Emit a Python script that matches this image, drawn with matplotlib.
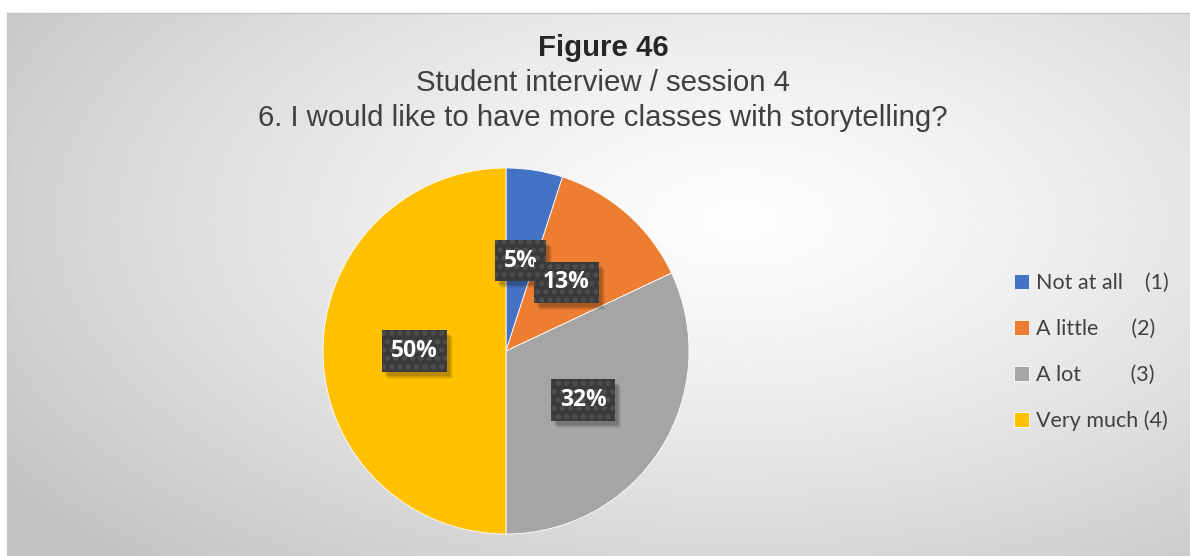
import numpy as np
import matplotlib
matplotlib.use("Agg")
import matplotlib.pyplot as plt
from matplotlib.patches import Rectangle
from matplotlib.transforms import IdentityTransform

# Survey responses
categories = ["Not at all    (1)", "A little      (2)", "A lot         (3)", "Very much (4)"]
shares = [5, 13, 32, 50]
colors = ["#4472C4", "#ED7D31", "#A5A5A5", "#FFC000"]

title_main = "Figure 46"
title_sub1 = "Student interview / session 4"
title_sub2 = "6. I would like to have more classes with storytelling?"

W, H = 1190, 556
fig = plt.figure(figsize=(W / 100, H / 100), dpi=100)
fig.patch.set_facecolor("white")

# Chart area with soft radial gradient
bg = fig.add_axes([7 / W, 0, (W - 7) / W, (H - 13) / H])
ny, nx = 300, 650
yy, xx = np.mgrid[0:1:ny * 1j, 0:1:nx * 1j]
cx, cy = 0.62, 0.62
d = np.sqrt(((xx - cx) / 0.75) ** 2 + ((yy - cy) / 0.85) ** 2)
d = np.clip(d, 0, 1)
val = (253 - (253 - 196) * d ** 1.3) / 255.0
bg.imshow(val, cmap="gray", vmin=0, vmax=1, origin="lower", aspect="auto",
          extent=[0, 1, 0, 1], interpolation="bilinear")
bg.set_xlim(0, 1)
bg.set_ylim(0, 1)
for side in ["right", "bottom"]:
    bg.spines[side].set_visible(False)
for side in ["left", "top"]:
    bg.spines[side].set_color("#c4c4c4")
    bg.spines[side].set_linewidth(1.0)
bg.set_xticks([])
bg.set_yticks([])

# Titles
tx = 603 / W
fig.text(tx, 1 - 48 / H, title_main, ha="center", va="center",
         fontsize=21.2, fontweight="bold", family="Liberation Sans", color="#262626")
fig.text(tx, 1 - 83 / H, title_sub1, ha="center", va="center",
         fontsize=21.2, family="Liberation Sans", color="#404040")
fig.text(tx, 1 - 118 / H, title_sub2, ha="center", va="center",
         fontsize=21.2, family="Liberation Sans", color="#404040")

# Pie
R = 183
cxp, cyp = 506, 351
ax = fig.add_axes([(cxp - R) / W, (H - cyp - R) / H, 2 * R / W, 2 * R / H])
wedges, _ = ax.pie(shares, colors=colors, startangle=90, counterclock=False,
                   radius=1.0, wedgeprops=dict(edgecolor="white", linewidth=0.6))
ax.set_xlim(-1, 1)
ax.set_ylim(-1, 1)
ax.set_aspect("equal")
ax.axis("off")

# Data labels in dark dotted boxes
plt.rcParams["hatch.linewidth"] = 2.5
total = sum(shares)
start = 90.0
labels = []
for i, v in enumerate(shares):
    sweep = 360.0 * v / total
    mid = np.deg2rad(start - sweep / 2)
    start -= sweep
    x, y = 0.5 * np.cos(mid), 0.5 * np.sin(mid)
    t = ax.text(x, y, f"{v}%", ha="center", va="center", fontsize=16.5,
                fontweight="bold", family="Open Sans", color="white",
                bbox=dict(boxstyle="square,pad=0.38", facecolor="#3b3b3b",
                          edgecolor="#4f4f4f", linewidth=0, hatch=".."),
                zorder=10 + 2 * i)
    labels.append(t)

# Soft drop shadows under each label box, above the wedges
fig.canvas.draw()
renderer = fig.canvas.get_renderer()
for t in labels:
    ext = t.get_bbox_patch().get_window_extent(renderer)
    z = t.get_zorder() - 0.5
    for k, a in [(7, 0.05), (6, 0.07), (5, 0.08), (4, 0.10)]:
        ax.add_patch(Rectangle((ext.x0 + k - 1, ext.y0 - k),
                               ext.width, ext.height,
                               transform=IdentityTransform(), facecolor="black",
                               edgecolor="none", alpha=a, zorder=z,
                               clip_on=False))

# Legend
leg = fig.legend(wedges, categories, loc="center left",
                 bbox_to_anchor=(995 / W, 1 - 352 / H), frameon=False,
                 handlelength=0.7, handleheight=0.7, handletextpad=0.3,
                 labelspacing=1.2, prop=dict(family="Lato", size=15.5))
for t in leg.get_texts():
    t.set_color("#404040")

fig.savefig("out.png", dpi=100)
